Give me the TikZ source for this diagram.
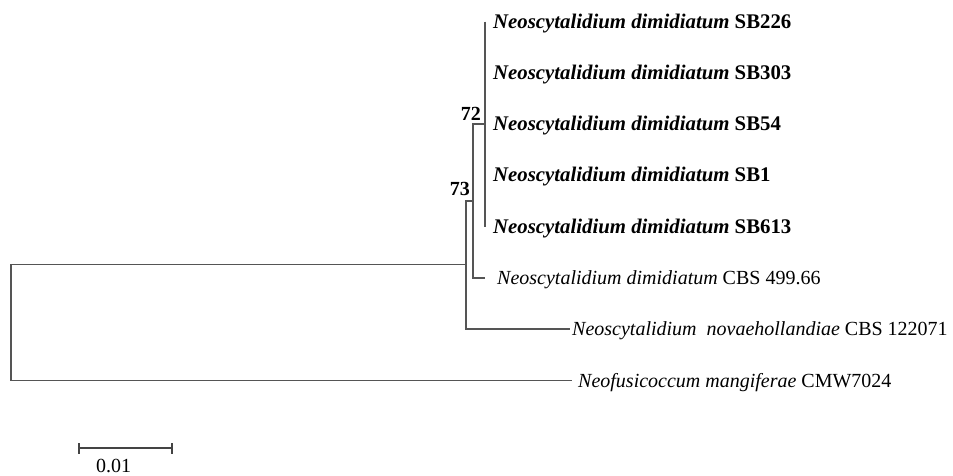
\documentclass[tikz,border=0pt]{standalone}
\usepackage{fontspec}
\setmainfont{Liberation Serif}
\definecolor{branchgray}{RGB}{85,85,85}
\begin{document}
\begin{tikzpicture}[x=1pt,y=-1pt,
  branch/.style={draw=branchgray, line width=1.7pt},
  scalebar/.style={draw=branchgray!80!black, line width=2.4pt},
  taxon/.style={anchor=base west, inner sep=0pt, font=\fontsize{20}{24}\selectfont},
  ourtaxon/.style={taxon, font=\bfseries\fontsize{20.8}{24}\selectfont},
  boot/.style={anchor=base east, inner sep=0pt, font=\bfseries\fontsize{20}{24}\selectfont}]
\useasboundingbox (0,0) rectangle (953,475);

% tips of the tree
\coordinate (tip1) at (485,21.5);
\coordinate (tip2) at (485,72.7);
\coordinate (tip3) at (485,124);
\coordinate (tip4) at (485,175.3);
\coordinate (tip5) at (485,226.5);
\coordinate (tip6) at (485,277.8);
\coordinate (tip7) at (570,329.1);
\coordinate (tip8) at (572,380.4);

% internal nodes (points where the parent branch joins)
\coordinate (c72) at (473,200.9);
\coordinate (c73) at (466,264.5);
\coordinate (croot) at (11,322.5);

% branches
\draw[branch] (tip1) -- (tip5);
\draw[branch] (tip3) -| (c72) |- (tip6);
\draw[branch] (c72) -| (c73) |- (tip7);
\draw[branch] (c73) -| (croot) |- (tip8);

% taxon labels
\node[ourtaxon] (l1) at (493,28.1) {\textit{Neoscytalidium dimidiatum} SB226};
\node[ourtaxon] (l2) at (493,79.3) {\textit{Neoscytalidium dimidiatum} SB303};
\node[ourtaxon] (l3) at (493,130.6) {\textit{Neoscytalidium dimidiatum} SB54};
\node[ourtaxon] (l4) at (493,181.9) {\textit{Neoscytalidium dimidiatum} SB1};
\node[ourtaxon] (l5) at (493,233.1) {\textit{Neoscytalidium dimidiatum} SB613};
\node[taxon] (l6) at (497,284.4) {\textit{Neoscytalidium dimidiatum} CBS 499.66};
\node[taxon] (l7) at (572,335.7) {\textit{Neoscytalidium\ \ novaehollandiae} CBS 122071};
\node[taxon] (l8) at (578,387) {\textit{Neofusicoccum mangiferae} CMW7024};

% bootstrap support
\node[boot] (b72) at (481,120.5) {72};
\node[boot] (b73) at (470,195) {73};

% scale bar
\coordinate (sbl) at (79,448);
\coordinate (sbr) at (172,448);
\draw[scalebar] (sbl) -- (sbr);
\draw[scalebar] ([yshift=-5.5pt]sbl) -- ([yshift=5.5pt]sbl);
\draw[scalebar] ([yshift=-5.5pt]sbr) -- ([yshift=5.5pt]sbr);
\node[taxon] (sblab) at (96,472.5) {0.01};
\end{tikzpicture}
\end{document}
